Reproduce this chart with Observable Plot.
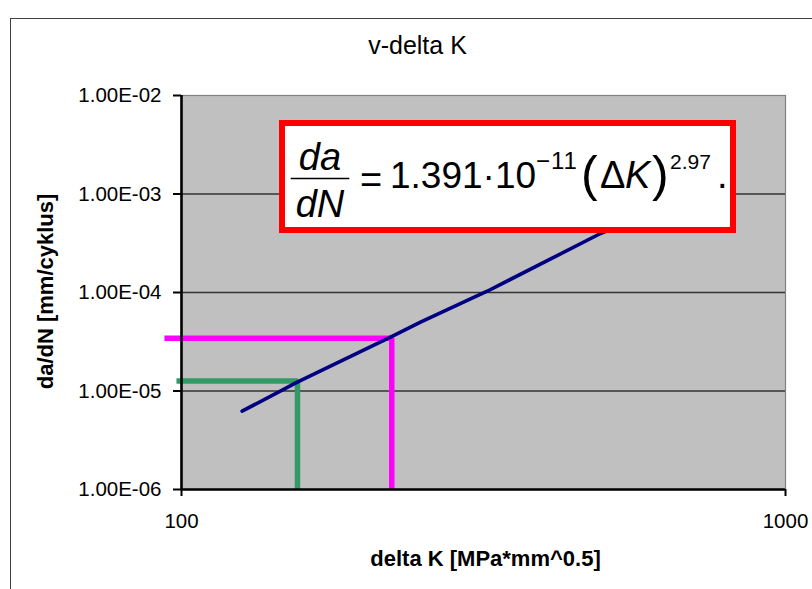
<!DOCTYPE html>
<html>
<head>
<meta charset="utf-8">
<script src="https://cdn.jsdelivr.net/npm/d3@7"></script>
<script src="https://cdn.jsdelivr.net/npm/@observablehq/plot@0.6"></script>
<style>
  html, body { margin: 0; padding: 0; background: #fff; }
  #page { position: relative; width: 812px; height: 589px; overflow: hidden; background: #fff; font-family: "Liberation Sans", Arial, sans-serif; }
  #chartframe { position: absolute; left: 10px; top: 18px; width: 900px; height: 700px; border: 1.6px solid #404040; }
  #plot { position: absolute; left: 0; top: 0; }
  #eq { position: absolute; left: 0; top: 0; pointer-events: none; }
</style>
</head>
<body>
<div id="page">
  <div id="chartframe"></div>
  <div id="plot"></div>
  <svg id="eq" width="812" height="589"></svg>
</div>
<script>
// ---- data ----
const title = "v-delta K";
const xLabel = "delta K [MPa*mm^0.5]";
const yLabel = "da/dN [mm/cyklus]";

// measured crack-growth curve
const deltaK = [126.0, 155.5, 222.7, 248.7, 320.7, 494.0, 560.0];
const dadN   = [6.24e-6, 1.23e-5, 3.57e-5, 4.99e-5, 1.03e-4, 3.97e-4, 5.5e-4];

// green read-off guide
const greenK = [98.1, 155.6, 155.6];
const greenRate = [1.263e-5, 1.263e-5, 1e-6];
// magenta read-off guide
const pinkK = [93.7, 222.9, 222.9];
const pinkRate = [3.43e-5, 3.43e-5, 1e-6];

const xTicks = [100, 1000];
const xTickLabels = ["100", "1000"];
const yTicks = [1e-6, 1e-5, 1e-4, 1e-3, 1e-2];
const yTickLabels = ["1.00E-06", "1.00E-05", "1.00E-04", "1.00E-03", "1.00E-02"];
const gridTicks = [1e-5, 1e-4, 1e-3];

// ---- build tables ----
const curve = deltaK.map((k, i) => ({k, r: dadN[i]}));
const green = greenK.map((k, i) => ({k, r: greenRate[i]}));
const pink = pinkK.map((k, i) => ({k, r: pinkRate[i]}));
const xFmt = new Map(xTicks.map((t, i) => [t, xTickLabels[i]]));
const yFmt = new Map(yTicks.map((t, i) => [t, yTickLabels[i]]));

const chart = Plot.plot({
  width: 812,
  height: 589,
  marginLeft: 181,
  marginRight: 27,
  marginTop: 95,
  marginBottom: 100,
  style: {background: "transparent", color: "#000", fontFamily: "'Liberation Sans', Arial, sans-serif", overflow: "visible"},
  x: {type: "log", domain: [100, 1000]},
  y: {type: "log", domain: [1e-6, 1e-2]},
  marks: [
    Plot.frame({fill: "#C0C0C0", stroke: "#808080", strokeWidth: 1.2}),
    Plot.gridY({ticks: gridTicks, stroke: "#333", strokeOpacity: 1, strokeWidth: 1.3}),
    Plot.line(green, {x: "k", y: "r", stroke: "#339966", strokeWidth: 5.5, strokeLinejoin: "miter", strokeLinecap: "butt"}),
    Plot.line(pink, {x: "k", y: "r", stroke: "#FF00FF", strokeWidth: 5.5, strokeLinejoin: "miter", strokeLinecap: "butt"}),
    Plot.line(curve, {x: "k", y: "r", stroke: "#000080", strokeWidth: 3.6, strokeLinecap: "round"}),
    Plot.ruleX([100], {stroke: "#000", strokeWidth: 2.6}),
    Plot.ruleY([1e-6], {stroke: "#000", strokeWidth: 2.6}),
    Plot.axisY({ticks: yTicks, tickFormat: d => yFmt.get(d), tickSize: 8, tickPadding: 12, fontSize: 20.5, strokeWidth: 2, label: null}),
    Plot.axisX({ticks: xTicks, tickFormat: d => xFmt.get(d), tickSize: 7, tickPadding: 17, fontSize: 20.5, strokeWidth: 2, label: null}),
    Plot.text([title], {frameAnchor: "top", dx: -66, dy: -42, lineAnchor: "bottom", fontSize: 25}),
    Plot.text([xLabel], {frameAnchor: "bottom", dx: 2, dy: 76, lineAnchor: "bottom", fontSize: 22, fontWeight: "bold"}),
    Plot.text([yLabel], {frameAnchor: "left", textAnchor: "middle", dx: -136, dy: -1, rotate: -90, fontSize: 22, fontWeight: "bold"})
  ]
});
document.getElementById("plot").appendChild(chart);

// ---- equation annotation box ----
const eq = d3.select("#eq");
const ff = "'Liberation Sans', Arial, sans-serif";
eq.append("rect").attr("x", 282).attr("y", 123).attr("width", 451).attr("height", 107)
  .attr("fill", "#fff").attr("stroke", "#FF0000").attr("stroke-width", 6);
const t = (x, y, s, size, opts = {}) => eq.append("text").attr("x", x).attr("y", y)
  .attr("font-family", ff).attr("font-size", size).attr("fill", "#000")
  .attr("font-style", opts.italic ? "italic" : "normal")
  .attr("letter-spacing", opts.ls || 0)
  .attr("text-anchor", opts.anchor || "start").text(s);
t(320, 170, "da", 38, {italic: true, anchor: "middle"});
eq.append("line").attr("x1", 290.7).attr("x2", 349.3).attr("y1", 178.5).attr("y2", 178.5)
  .attr("stroke", "#000").attr("stroke-width", 1.6);
t(320, 216.7, "dN", 38, {italic: true, anchor: "middle"});
t(371, 193, "=", 38, {anchor: "middle"});
t(390, 188.3, "1.391\u00B710", 37);
t(536, 168.5, "\u221211", 24, {ls: 1});
t(581, 191, "(", 50);
t(600, 188.3, "\u0394", 38);
t(625, 188.3, "K", 38, {italic: true});
t(652, 191, ")", 50);
t(670, 168.5, "2.97", 21);
t(717, 188.3, ".", 38);
</script>
</body>
</html>
